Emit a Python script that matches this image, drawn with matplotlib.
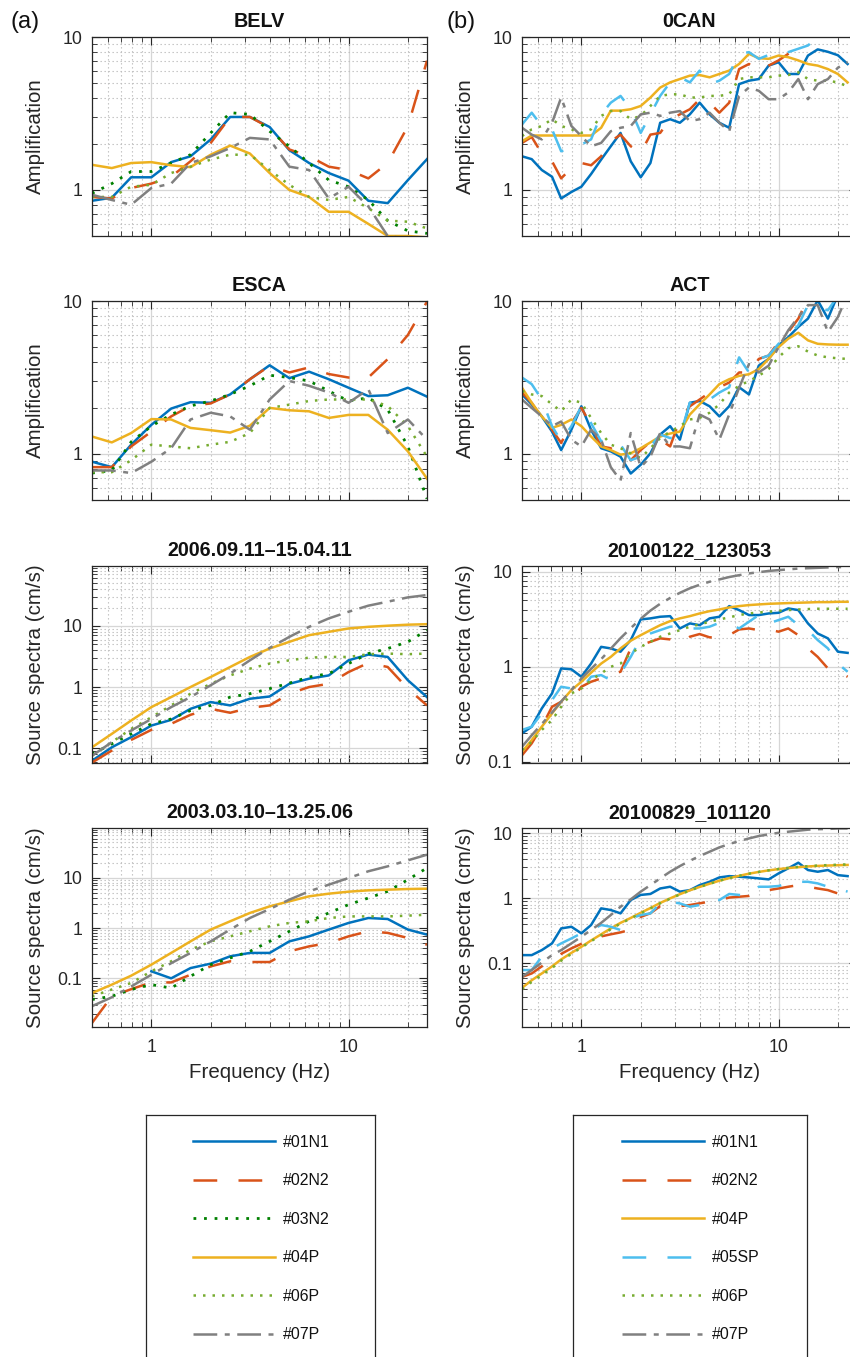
import numpy as np
import matplotlib
matplotlib.use('Agg')
import matplotlib.pyplot as plt
from matplotlib.ticker import FixedLocator, LogLocator, NullFormatter, FuncFormatter

plt.rcParams['font.family'] = ['Liberation Sans', 'DejaVu Sans']

nan = np.nan

# ---------------- data ----------------
FREQ_L = [0.5, 0.63, 0.79, 1.0, 1.26, 1.58, 2.0, 2.51, 3.16, 3.98, 5.01, 6.31,
          7.94, 10.0, 12.6, 15.8, 20.0, 25.0]
FREQ_R = [0.5, 0.56, 0.63, 0.71, 0.79, 0.89, 1.0, 1.12, 1.26, 1.41, 1.58, 1.78,
          2.0, 2.24, 2.51, 2.82, 3.16, 3.55, 3.98, 4.47, 5.01, 5.62, 6.31, 7.08,
          7.94, 8.91, 10.0, 11.2, 12.6, 14.1, 15.8, 17.8, 20.0, 22.4]

LABELS_L = ['#01N1', '#02N2', '#03N2', '#04P', '#06P', '#07P']
LABELS_R = ['#01N1', '#02N2', '#04P', '#05SP', '#06P', '#07P']

# BELV amplification
belv_01 = [0.85, 0.89, 1.21, 1.21, 1.52, 1.66, 2.14, 3.0, 3.0, 2.58, 1.82, 1.5, 1.29, 1.15, 0.85, 0.82, 1.16, 1.59]
belv_02 = [0.90, 0.88, 1.03, 1.10, 1.22, 1.54, 2.03, 3.0, 3.0, 2.55, 1.84, 1.66, 1.42, 1.35, 1.19, 1.5, 2.61, 7.0]
belv_03 = [0.95, 1.10, 1.32, 1.32, 1.5, 1.7, 2.36, 3.2, 3.12, 2.42, 1.93, 1.5, 1.16, 1.05, 0.86, 0.63, 0.54, 0.52]
belv_04 = [1.46, 1.39, 1.5, 1.52, 1.45, 1.41, 1.7, 1.95, 1.73, 1.29, 1.0, 0.9, 0.72, 0.72, 0.6, 0.5, 0.5, 0.49]
belv_06 = [0.9, 0.9, 1.05, 1.08, 1.29, 1.42, 1.58, 1.7, 1.7, 1.35, 1.08, 0.9, 0.86, 0.9, 0.76, 0.63, 0.62, 0.56]
belv_07 = [0.93, 0.86, 0.8, 1.03, 1.1, 1.5, 1.66, 1.88, 2.19, 2.14, 1.42, 1.35, 0.88, 1.05, 0.78, 0.5, 0.48, 0.48]

# ESCA amplification
esca_01 = [0.89, 0.82, 1.15, 1.55, 1.98, 2.18, 2.16, 2.45, 3.08, 3.8, 3.13, 3.45, 3.08, 2.71, 2.39, 2.42, 2.71, 2.37]
esca_02 = [0.82, 0.82, 1.12, 1.4, 1.76, 2.06, 2.14, 2.45, 3.08, 3.77, 3.41, 3.68, 3.33, 3.16, 3.16, 4.17, 6.0, 9.9]
esca_03 = [0.75, 0.78, 1.2, 1.52, 1.81, 2.06, 2.22, 2.45, 2.79, 3.27, 3.16, 3.0, 2.58, 2.22, 2.33, 1.95, 1.12, 0.51]
esca_04 = [1.3, 1.19, 1.37, 1.69, 1.68, 1.48, 1.43, 1.38, 1.53, 2.0, 1.93, 1.9, 1.72, 1.8, 1.8, 1.44, 1.04, 0.69]
esca_06 = [0.76, 0.76, 0.91, 1.15, 1.12, 1.09, 1.15, 1.2, 1.37, 2.0, 2.1, 2.22, 2.27, 2.27, 2.27, 2.06, 1.52, 0.96]
esca_07 = [0.78, 0.78, 0.75, 0.89, 1.09, 1.68, 1.86, 1.76, 1.44, 2.27, 3.0, 2.79, 2.52, 2.16, 2.65, 1.37, 1.68, 1.24]

# Source spectra 2006.09.11-15.04.11
ev06_01 = [0.062, 0.103, 0.151, 0.234, 0.29, 0.44, 0.567, 0.5, 0.643, 0.70, 1.13, 1.37, 1.55, 2.74, 3.4, 3.11, 1.29, 0.685]
ev06_02 = [0.058, 0.091, 0.136, 0.199, 0.25, 0.351, 0.44, 0.379, 0.457, 0.5, 0.777, 1.0, 1.13, 1.76, 2.48, 2.13, 0.94, 0.5]
ev06_03 = [0.08, 0.117, 0.171, 0.25, 0.30, 0.413, 0.5, 0.685, 0.777, 0.94, 1.16, 1.46, 1.66, 2.42, 3.53, 4.27, 5.5, 8.55]
ev06_04 = [0.103, 0.171, 0.283, 0.469, 0.685, 1.0, 1.46, 2.13, 3.11, 4.27, 5.5, 7.07, 8.02, 9.1, 9.68, 10.1, 10.5, 10.7]
ev06_06 = [0.075, 0.125, 0.206, 0.32, 0.5, 0.777, 1.13, 1.55, 2.0, 2.42, 2.74, 3.03, 3.11, 3.11, 3.45, 3.53, 3.45, 3.53]
ev06_07 = [0.075, 0.125, 0.194, 0.30, 0.469, 0.685, 1.07, 1.66, 2.74, 4.37, 6.63, 9.68, 13.3, 17.1, 21.5, 25.0, 29.4, 32.1]

# Source spectra 2003.03.10-13.25.06
ev03_01 = [nan, nan, nan, 0.138, 0.10, 0.16, 0.196, 0.274, 0.32, 0.32, 0.543, 0.683, 0.93, 1.26, 1.58, 1.51, 0.93, 0.74]
ev03_02 = [0.013, 0.044, 0.061, 0.083, 0.083, 0.118, 0.173, 0.218, 0.211, 0.211, 0.344, 0.432, 0.504, 0.683, 0.86, 0.80, 0.633, 0.466]
ev03_03 = [0.038, 0.044, 0.06, 0.075, 0.064, 0.11, 0.187, 0.254, 0.344, 0.543, 0.86, 1.36, 1.99, 2.91, 3.94, 5.35, 9.12, 15.6]
ev03_04 = [0.051, 0.075, 0.113, 0.187, 0.32, 0.543, 0.93, 1.36, 1.99, 2.69, 3.39, 4.26, 4.81, 5.27, 5.6, 5.78, 5.95, 6.04]
ev03_06 = [0.044, 0.06, 0.081, 0.138, 0.218, 0.371, 0.543, 0.683, 0.86, 1.08, 1.26, 1.36, 1.58, 1.7, 1.7, 1.7, 1.76, 1.84]
ev03_07 = [0.028, 0.042, 0.069, 0.118, 0.2, 0.32, 0.543, 0.93, 1.58, 2.38, 3.66, 5.35, 7.26, 9.85, 13.4, 16.8, 22.1, 28.6]

# 0CAN amplification
ocan_01 = [1.66, 1.59, 1.35, 1.22, 0.88, 0.97, 1.05, 1.27, 1.58, 1.93, 2.36, 1.54, 1.21, 1.5, 2.75, 2.9, 2.75, 3.12, 3.72, 3.12, 2.75, 2.55, 4.92, 5.18, 5.31, 6.5, 6.84, 5.73, 5.73, 7.56, 8.3, 8.0, 7.6, 6.66]
ocan_02 = [2.03, 2.22, 1.73, 1.54, 1.19, 1.39, 1.5, 1.45, 1.66, 2.08, 2.3, 1.93, 1.75, 2.3, 2.36, 2.9, 3.12, 3.37, 3.92, 3.72, 3.2, 3.72, 6.17, 6.66, 6.03, 6.5, 7.03, 7.76, 8.5, 8.17, nan, nan, nan, nan]
ocan_04 = [2.08, 2.27, 2.27, 2.27, 2.27, 2.27, 2.27, 2.27, 2.55, 3.3, 3.3, 3.37, 3.54, 4.02, 4.67, 5.05, 5.31, 5.59, 5.64, 5.45, 5.73, 6.03, 6.66, 7.76, 7.27, 7.2, 7.56, 7.38, 7.03, 6.66, 6.5, 6.17, 5.73, 5.05]
ocan_05 = [2.68, 3.2, 2.62, 2.49, 1.79, 1.88, 1.98, 2.14, 3.12, 3.72, 4.12, 3.37, 2.36, 3.12, 4.12, 5.05, 5.45, 5.05, 6.03, 4.92, 5.18, 5.73, 7.76, 7.96, 7.2, 7.63, 7.56, 7.96, 8.38, 8.8, 10.0, 10.8, 11.2, 11.5]
ocan_06 = [2.25, 2.49, 2.62, 2.9, 2.62, 2.49, 2.36, 2.49, 3.05, 3.28, 3.28, 2.9, 3.05, 3.54, 4.12, 4.22, 4.22, 4.02, 4.02, 4.12, 4.12, 4.22, 5.31, 5.45, 5.45, 5.45, 5.59, 5.64, 5.88, 5.31, 5.18, 5.18, 5.05, 4.75]
ocan_07 = [2.55, 2.3, 2.14, 2.75, 4.02, 2.62, 2.25, 1.93, 2.03, 2.42, 2.55, 2.62, 3.12, 3.2, 3.05, 3.2, 3.28, 2.82, 2.9, 3.2, 2.75, 2.42, 4.12, 4.67, 4.45, 3.92, 3.92, 4.34, 5.31, 3.92, 4.92, 5.31, 6.3, 6.84]

# ACT amplification
act_01 = [2.45, 2.11, 1.76, 1.4, 1.06, 1.44, 2.05, 1.44, 1.09, 1.04, 0.96, 0.745, 0.85, 1.01, 1.34, 1.52, 1.24, 2.16, 2.22, 2.05, 1.76, 2.05, 2.73, 2.45, 3.78, 4.18, 5.12, 5.8, 6.77, 7.67, 10.1, 7.67, 11.0, 12.0]
act_02 = [2.52, 2.16, 1.72, 1.44, 1.18, 1.59, 2.0, 1.55, 1.12, 1.09, 0.96, 0.91, 1.06, 1.2, 1.24, 1.12, 1.68, 2.05, 2.27, 2.52, 2.73, 2.93, 3.41, 3.41, 4.18, 4.4, 5.39, 6.27, 7.67, 10.4, nan, nan, nan, nan]
act_04 = [2.71, 2.16, 1.76, 1.48, 1.55, 1.68, 1.52, 1.3, 1.12, 1.06, 0.99, 1.01, 1.09, 1.19, 1.3, 1.36, 1.4, 1.81, 2.11, 2.45, 2.86, 3.08, 3.24, 3.32, 3.59, 4.18, 4.99, 5.67, 6.2, 5.53, 5.25, 5.2, 5.18, 5.18]
act_05 = [3.16, 2.86, 2.27, 1.52, 1.21, 1.52, 2.05, 1.59, 1.21, 1.24, 1.15, 0.91, 0.96, 1.12, 1.34, 1.27, 1.3, 2.16, 2.27, 2.27, 2.52, 2.73, 4.28, 3.41, 4.18, 4.4, 5.25, 5.96, 6.94, 9.4, 8.93, 8.7, 10.8, 11.5]
act_06 = [2.58, 2.45, 2.39, 2.11, 1.9, 2.27, 2.16, 1.72, 1.37, 1.15, 1.09, 1.01, 0.94, 1.09, 1.27, 1.4, 1.52, 1.68, 1.72, 1.86, 2.11, 2.52, 2.79, 3.0, 3.24, 3.59, 4.28, 4.91, 5.06, 4.67, 4.4, 4.28, 4.22, 4.18]
act_07 = [2.27, 2.0, 1.76, 1.52, 1.63, 1.24, 1.12, 1.44, 1.24, 0.82, 0.67, 1.37, 0.82, 0.96, 1.37, 1.12, 1.12, 1.09, 1.81, 1.68, 1.24, 1.81, 2.71, 3.87, 3.41, 3.78, 4.99, 6.43, 7.86, 9.4, 9.4, 6.27, 7.86, 11.0]

# Source spectra 20100122_123053
e0122_01 = [0.199, 0.234, 0.364, 0.524, 0.96, 0.94, 0.785, 1.08, 1.62, 1.56, 1.44, 1.91, 3.15, 3.23, 3.36, 3.41, 2.53, 2.86, 2.74, 3.23, 3.36, 4.35, 3.95, 3.5, 3.5, 3.64, 3.7, 4.11, 3.95, 2.86, 2.24, 1.99, 1.44, 1.4]
e0122_02 = [0.117, 0.156, 0.234, 0.379, 0.428, 0.446, 0.616, 0.695, 0.754, 0.837, 0.886, 1.56, 1.69, 1.83, 1.99, 1.94, 1.76, 2.07, 2.21, 2.04, 2.04, 2.15, 2.47, 2.53, 2.43, 2.47, 2.34, 2.53, 2.15, 1.56, 1.27, 0.96, 0.886, 0.785]
e0122_04 = [0.127, 0.169, 0.234, 0.323, 0.428, 0.568, 0.695, 0.865, 1.08, 1.27, 1.56, 1.88, 2.15, 2.43, 2.74, 3.02, 3.23, 3.41, 3.64, 3.85, 4.01, 4.21, 4.35, 4.46, 4.53, 4.6, 4.64, 4.68, 4.72, 4.75, 4.79, 4.79, 4.83, 4.83]
e0122_05 = [0.216, 0.234, 0.323, 0.446, 0.616, 0.59, 0.577, 0.785, 0.817, 0.724, 0.85, 1.27, 1.99, 2.24, 2.43, 2.64, 2.68, 2.53, 2.53, 2.64, 2.9, 2.86, 2.53, 2.98, 3.5, 2.86, 3.1, 3.36, 2.74, 2.43, 1.91, 1.56, 1.08, 0.886]
e0122_06 = [0.133, 0.162, 0.216, 0.275, 0.379, 0.524, 0.59, 0.724, 0.85, 1.0, 1.08, 1.38, 1.62, 1.83, 2.07, 2.24, 2.43, 2.64, 2.79, 2.98, 3.15, 3.31, 3.5, 3.64, 3.73, 3.79, 3.89, 3.95, 4.01, 4.05, 4.08, 4.08, 4.08, 4.08]
e0122_07 = [0.144, 0.19, 0.25, 0.33, 0.43, 0.57, 0.75, 0.95, 1.2, 1.55, 2.0, 2.55, 3.2, 3.9, 4.6, 5.3, 6.0, 6.7, 7.3, 7.85, 8.3, 8.8, 9.2, 9.6, 9.9, 10.2, 10.4, 10.6, 10.8, 10.9, 11.0, 11.1, 11.2, 11.2]

# Source spectra 20100829_101120
e0829_01 = [0.134, 0.134, 0.16, 0.203, 0.345, 0.366, 0.29, 0.389, 0.702, 0.662, 0.588, 0.943, 1.13, 1.17, 1.42, 1.51, 1.27, 1.34, 1.6, 1.8, 2.1, 2.2, 2.15, 2.1, 2.03, 1.96, 2.42, 2.9, 3.54, 2.73, 2.57, 2.73, 2.28, 2.2]
e0829_02 = [0.062, 0.07, 0.09, 0.11, 0.14, 0.17, 0.2, 0.235, 0.26, 0.28, 0.3, 0.33, 0.52, 0.59, 0.76, 0.79, 0.76, 0.79, 0.84, 0.89, 0.94, 1.03, 1.06, 1.09, 1.22, 1.34, 1.42, 1.51, 1.6, 1.51, 1.42, 1.34, 1.19, 1.06]
e0829_04 = [0.042, 0.055, 0.07, 0.09, 0.115, 0.145, 0.18, 0.225, 0.28, 0.345, 0.42, 0.5, 0.6, 0.71, 0.85, 1.0, 1.16, 1.33, 1.5, 1.68, 1.87, 2.05, 2.22, 2.4, 2.55, 2.7, 2.82, 2.93, 3.02, 3.1, 3.16, 3.2, 3.24, 3.27]
e0829_05 = [0.079, 0.079, 0.127, 0.17, 0.203, 0.242, 0.29, 0.326, 0.389, 0.366, 0.326, 0.49, 0.554, 0.588, 0.837, 0.89, 0.837, 0.744, 0.79, 1.0, 0.943, 1.17, 1.13, 1.09, 1.51, 1.51, 1.55, 1.7, 1.8, 1.8, 1.7, 1.51, 1.42, 1.27]
e0829_06 = [0.04, 0.052, 0.066, 0.085, 0.11, 0.14, 0.175, 0.22, 0.27, 0.335, 0.41, 0.49, 0.59, 0.7, 0.84, 0.99, 1.15, 1.32, 1.5, 1.68, 1.87, 2.05, 2.22, 2.4, 2.55, 2.7, 2.83, 2.95, 3.05, 3.13, 3.2, 3.25, 3.3, 3.33]
e0829_07 = [0.062, 0.079, 0.103, 0.134, 0.16, 0.203, 0.257, 0.326, 0.42, 0.554, 0.744, 0.965, 1.27, 1.6, 2.03, 2.57, 3.14, 3.79, 4.48, 5.22, 6.09, 6.85, 7.61, 8.36, 9.1, 9.65, 10.2, 10.6, 11.0, 11.4, 11.6, 11.7, 11.9, 11.9]

# ---------------- styles ----------------
STYLE = {
    '#01N1': dict(color='#0072BD', ls='-', lw=1.8),
    '#02N2': dict(color='#D95319', ls=(0, (9.5, 8.5)), lw=1.8),
    '#03N2': dict(color='#008000', ls=(0, (1.0, 2.8)), lw=2.0),
    '#04P': dict(color='#EDB120', ls='-', lw=1.8),
    '#05SP': dict(color='#4DBEEE', ls=(0, (9.5, 8.5)), lw=1.8),
    '#06P': dict(color='#77AC30', ls=(0, (1.0, 2.8)), lw=1.8),
    '#07P': dict(color='#808080', ls=(0, (9.5, 3.0, 2.0, 3.0)), lw=1.8),
}

W, H = 850, 1357
fig = plt.figure(figsize=(W / 100, H / 100), dpi=100)


def px_axes(x0, y0, x1, y1):
    return fig.add_axes([x0 / W, 1 - y1 / H, (x1 - x0) / W, (y1 - y0) / H])


def style_axes(ax, ylim, ylabel, title, show_xlabels):
    ax.set_xscale('log')
    ax.set_yscale('log')
    ax.set_xlim(0.5, 25)
    ax.set_ylim(*ylim)
    ax.xaxis.set_major_locator(FixedLocator([1, 10]))
    ax.xaxis.set_minor_locator(LogLocator(base=10, subs=np.arange(2, 10), numticks=30))
    ax.yaxis.set_major_locator(LogLocator(base=10, numticks=30))
    ax.yaxis.set_minor_locator(LogLocator(base=10, subs=np.arange(2, 10), numticks=30))
    ax.xaxis.set_minor_formatter(NullFormatter())
    ax.yaxis.set_minor_formatter(NullFormatter())
    fmt = FuncFormatter(lambda v, p: f'{v:g}')
    ax.yaxis.set_major_formatter(fmt)
    if show_xlabels:
        ax.xaxis.set_major_formatter(fmt)
        ax.set_xlabel('Frequency (Hz)', fontsize=14.8, color='#262626')
        ax.xaxis.set_label_coords(0.5, -0.18)
    else:
        ax.xaxis.set_major_formatter(NullFormatter())
    ax.tick_params(which='both', direction='in', top=True, right=True,
                   colors='#262626', labelcolor='#262626', labelsize=12.8)
    ax.tick_params(which='major', length=6, width=0.8, pad=7)
    ax.tick_params(axis='x', which='major', pad=9)
    ax.tick_params(which='minor', length=3.5, width=0.6)
    ax.grid(True, which='major', color='#d6d6d6', lw=0.9, ls='-')
    ax.grid(True, which='minor', color='#bdbdbd', lw=0.8, ls=(0, (1.2, 2.4)))
    ax.set_axisbelow(True)
    for s in ax.spines.values():
        s.set_color('#262626')
        s.set_linewidth(0.9)
    ax.set_ylabel(ylabel, fontsize=14.8, color='#262626')
    ax.yaxis.set_label_coords(-0.14, 0.5)
    ax.set_title(title, fontsize=14.2, fontweight='bold', pad=7, color='#111111')


def draw(ax, freqs, series, labels):
    handles = []
    for vals, lab in zip(series, labels):
        h, = ax.plot(freqs, vals, label=lab, **STYLE[lab])
        handles.append(h)
    return handles


rows = [(37, 236), (301, 500), (566, 763), (828, 1027)]
LX = (92, 427)
RX = (522, 857)

# Left column
ax = px_axes(LX[0], rows[0][0], LX[1], rows[0][1])
hl = draw(ax, FREQ_L, [belv_01, belv_02, belv_03, belv_04, belv_06, belv_07], LABELS_L)
style_axes(ax, (0.5, 10), 'Amplification', 'BELV', False)

ax = px_axes(LX[0], rows[1][0], LX[1], rows[1][1])
draw(ax, FREQ_L, [esca_01, esca_02, esca_03, esca_04, esca_06, esca_07], LABELS_L)
style_axes(ax, (0.5, 10), 'Amplification', 'ESCA', False)

ax = px_axes(LX[0], rows[2][0], LX[1], rows[2][1])
draw(ax, FREQ_L, [ev06_01, ev06_02, ev06_03, ev06_04, ev06_06, ev06_07], LABELS_L)
style_axes(ax, (0.057, 96), 'Source spectra (cm/s)', '2006.09.11\u201315.04.11', False)

ax = px_axes(LX[0], rows[3][0], LX[1], rows[3][1])
draw(ax, FREQ_L, [ev03_01, ev03_02, ev03_03, ev03_04, ev03_06, ev03_07], LABELS_L)
style_axes(ax, (0.0108, 97), 'Source spectra (cm/s)', '2003.03.10\u201313.25.06', True)

# Right column
ax = px_axes(RX[0], rows[0][0], RX[1], rows[0][1])
hr = draw(ax, FREQ_R, [ocan_01, ocan_02, ocan_04, ocan_05, ocan_06, ocan_07], LABELS_R)
style_axes(ax, (0.5, 10), 'Amplification', '0CAN', False)

ax = px_axes(RX[0], rows[1][0], RX[1], rows[1][1])
draw(ax, FREQ_R, [act_01, act_02, act_04, act_05, act_06, act_07], LABELS_R)
style_axes(ax, (0.5, 10), 'Amplification', 'ACT', False)

ax = px_axes(RX[0], rows[2][0], RX[1], rows[2][1])
draw(ax, FREQ_R, [e0122_01, e0122_02, e0122_04, e0122_05, e0122_06, e0122_07], LABELS_R)
style_axes(ax, (0.097, 11.5), 'Source spectra (cm/s)', '20100122_123053', False)

ax = px_axes(RX[0], rows[3][0], RX[1], rows[3][1])
draw(ax, FREQ_R, [e0829_01, e0829_02, e0829_04, e0829_05, e0829_06, e0829_07], LABELS_R)
style_axes(ax, (0.0105, 12.1), 'Source spectra (cm/s)', '20100829_101120', True)

# Panel letters
fig.text(10 / W, 1 - 22 / H, '(a)', fontsize=17, va='center', ha='left', color='#111111')
fig.text(447 / W, 1 - 22 / H, '(b)', fontsize=17, va='center', ha='left', color='#111111')


# Legends (frame box extends past bottom edge as in reference)
def legend_box(x0, x1, handles, labels, hx):
    lax = px_axes(x0, 1115, x1, 1390)
    lax.set_xticks([])
    lax.set_yticks([])
    lax.patch.set_alpha(0)
    for s in lax.spines.values():
        s.set_color('#262626')
        s.set_linewidth(0.9)
    leg = lax.legend(handles, labels, loc='upper left',
                     bbox_to_anchor=((hx - x0) / (x1 - x0), 1 - 20 / 275),
                     frameon=False, fontsize=11.4, handlelength=5.2,
                     handletextpad=0.45, labelspacing=1.48, borderpad=0,
                     borderaxespad=0)
    for t in leg.get_texts():
        t.set_color('#111111')


legend_box(146, 375, hl, LABELS_L, 193)
legend_box(573, 807, hr, LABELS_R, 622)

fig.savefig('out.png', dpi=100)
